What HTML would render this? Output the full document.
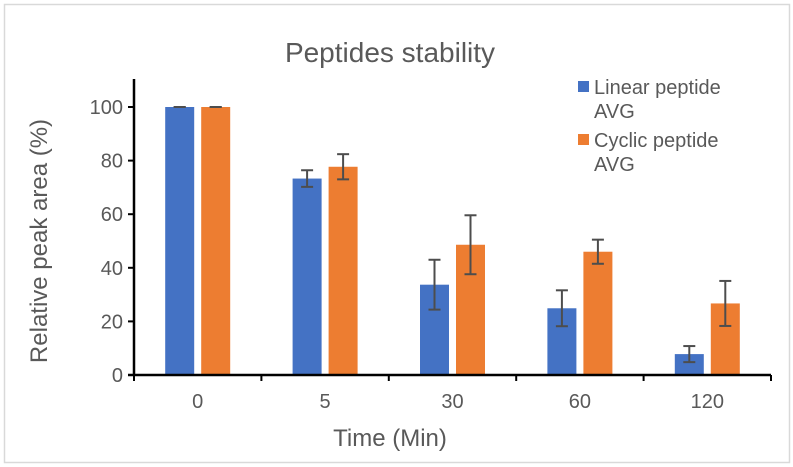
<!DOCTYPE html>
<html><head><meta charset="utf-8"><style>
html,body{margin:0;padding:0;background:#fff;}
svg{display:block;font-family:"Liberation Sans",Arial,sans-serif;}
</style></head><body>
<svg id="chart" width="793" height="467" viewBox="0 0 793 467" xmlns="http://www.w3.org/2000/svg">
<rect x="4.5" y="4.5" width="785" height="458" fill="#fff" stroke="#d9d9d9" stroke-width="1.5"/>
<text x="390" y="62" font-size="28" fill="#595959" text-anchor="middle">Peptides stability</text>
<text transform="translate(47,241) rotate(-90)" font-size="24" fill="#595959" text-anchor="middle">Relative peak area (%)</text>
<text x="390" y="446" font-size="24" fill="#595959" text-anchor="middle">Time (Min)</text>
<g id="plot"></g>
<g>
<rect x="578" y="81" width="11" height="11" fill="#4472c4"/>
<text x="594" y="94" font-size="20" fill="#595959">Linear peptide<tspan x="594" dy="24">AVG</tspan></text>
<rect x="578" y="134" width="11" height="11" fill="#ed7d31"/>
<text x="594" y="147" font-size="20" fill="#595959">Cyclic peptide<tspan x="594" dy="24">AVG</tspan></text>
</g>
</svg>
<script>
const categories = ["0","5","30","60","120"];
const linearValues = [100, 73.3, 33.7, 24.9, 7.8];
const linearErrors = [0, 3.1, 9.3, 6.7, 3.0];
const cyclicValues = [100, 77.7, 48.6, 46.0, 26.7];
const cyclicErrors = [0, 4.7, 11.0, 4.5, 8.4];
const yTicks = [0, 20, 40, 60, 80, 100];

const NS = "http://www.w3.org/2000/svg";
const plot = document.getElementById('plot');
const x0 = 134, x1 = 771, yBase = 375, yTop = 107;
const bandW = (x1 - x0) / categories.length;
const yScale = v => yBase - v * (yBase - yTop) / 100;
const bandCenter = i => x0 + bandW * (i + 0.5);
const barW = 29, gap = 7;
function mk(tag, attrs){const e=document.createElementNS(NS,tag);for(const k in attrs)e.setAttribute(k,attrs[k]);plot.appendChild(e);return e;}

yTicks.forEach(t=>{
  const y=yScale(t);
  const tl=mk('line',{x1:x0-6,x2:x0,y1:y,y2:y,stroke:'#000','stroke-width':2});
  
  
  const lb=mk('text',{x:x0-11,y:y+7,'font-size':20,fill:'#595959','text-anchor':'end'});
  lb.textContent=t;
  
  
});

function series(vals, errs, offset, color, name){
  vals.forEach((v,i)=>{
    const cx=bandCenter(i)+offset;
    const y=yScale(v);
    const r=mk('rect',{x:cx-barW/2,y:y,width:barW,height:yBase-y,fill:color});
    
    
    const e=errs[i];
    const yh=yScale(v+e), yl=yScale(v-e);
    const g=document.createElementNS(NS,'g');
    
    
    plot.appendChild(g);
    [[cx,yh,cx,yl],[cx-6,yh,cx+6,yh],[cx-6,yl,cx+6,yl]].forEach(c=>{
      const l=document.createElementNS(NS,'line');
      l.setAttribute('x1',c[0]);l.setAttribute('y1',c[1]);l.setAttribute('x2',c[2]);l.setAttribute('y2',c[3]);
      l.setAttribute('stroke','#4d4d4d');l.setAttribute('stroke-width','2');
      g.appendChild(l);
    });
  });
}
series(linearValues, linearErrors, -(barW+gap)/2, '#4472c4', 'linear');
series(cyclicValues, cyclicErrors, (barW+gap)/2, '#ed7d31', 'cyclic');

const ya=mk('line',{x1:x0,x2:x0,y1:79,y2:yBase+1,stroke:'#000','stroke-width':2.5});


const xa=mk('line',{x1:x0-6,x2:x1,y1:yBase,y2:yBase,stroke:'#000','stroke-width':2.5});


for(let i=0;i<=categories.length;i++){
  const tx=x0+bandW*i;
  const tk=mk('line',{x1:tx,x2:tx,y1:yBase,y2:yBase+6,stroke:'#000','stroke-width':2});
  
  
}
categories.forEach((c,i)=>{
  const t=mk('text',{x:bandCenter(i),y:yBase+33,'font-size':20,fill:'#595959','text-anchor':'middle'});
  t.textContent=c;
  
  
});
</script>
</body></html>
